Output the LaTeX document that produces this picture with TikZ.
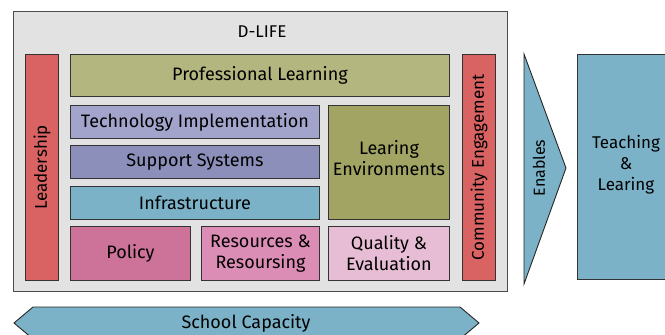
\documentclass[tikz,border=0pt]{standalone}
\usepackage{fontspec}
\setmainfont{Fira Sans}
\usetikzlibrary{positioning}
\definecolor{framegray}{HTML}{E2E2E2}
\definecolor{leadred}{HTML}{D96262}
\definecolor{olivelight}{HTML}{B3B67F}
\definecolor{olivedark}{HTML}{A1A462}
\definecolor{lavender}{HTML}{A2A4CB}
\definecolor{lavenderdark}{HTML}{8C8FB9}
\definecolor{steelblue}{HTML}{7CB2C8}
\definecolor{pinkdark}{HTML}{CD7399}
\definecolor{pinkmid}{HTML}{DC8DB5}
\definecolor{pinklight}{HTML}{E6BDD4}
\tikzset{
  blk/.style = {draw=black!80, line width=0.9pt, inner sep=0pt, align=center,
    anchor=north west, font=\fontsize{18}{21}\selectfont},% coloured block
  tall/.style = {blk, minimum width=33, minimum height=226},% side bar
  lbl/.style = {inner sep=0pt, align=center, font=\fontsize{18}{21}\selectfont}
}

\begin{document}
\begin{tikzpicture}[x=1pt,y=-1pt]
\clip (0,0) rectangle (665,335);
\node [blk, fill=framegray, draw=black!70, minimum width=494, minimum height=280] (dlife) at (13,11) {};
\node [lbl, font=\fontsize{17}{21}\selectfont] (title) at (262,32) {D-LIFE};
\node [tall, fill=leadred] (lead) at (25,54) {};
\node [lbl, rotate=90, font=\fontsize{17}{21}\selectfont] at (lead.center) {Leadership};
\node [tall, fill=leadred] (comm) at (462,54) {};
\node [lbl, rotate=90, font=\fontsize{17}{21}\selectfont] at (comm.center) {Community Engagement};
\node [blk, fill=olivelight, minimum width=379, minimum height=42] (prof) at (70,54) {Professional Learning};
\node [blk, fill=lavender, minimum width=249, minimum height=33] (tech) at (70,105) {Technology Implementation};
\node [blk, fill=lavenderdark, minimum width=249, minimum height=33] (supp) at (70,145) {Support Systems};
\node [blk, fill=steelblue, minimum width=249, minimum height=33] (infra) at (70,186) {Infrastructure};
\node [blk, fill=olivedark, minimum width=121, minimum height=114] (env) at (328,105) {};
\node [lbl] at ([yshift=4]env.center) {Learing\\Environments};
\node [blk, fill=pinkdark, minimum width=120, minimum height=54] (policy) at (70,226) {Policy};
\node [blk, fill=pinkmid, minimum width=118, minimum height=54] (res) at (201,226) {Resources \&\\Resoursing};
\node [blk, fill=pinklight, minimum width=121, minimum height=54] (qual) at (328,226) {Quality \&\\Evaluation};
% enables wedge and outcome
\draw [draw=black!85, line width=0.9pt, fill=steelblue] (524,54) -- (566,168) -- (524,284) -- cycle;
\node [lbl, rotate=90, font=\fontsize{16}{18}\selectfont] (enab) at (539,168) {Enables};
\node [blk, fill=steelblue, minimum width=98, minimum height=225] (teach) at (577,54) {};
\node [lbl, font=\fontsize{17}{21}\selectfont] at (626,165) {Teaching\\\&\\Learing};
% capacity arrow along the bottom
\draw [draw=black!85, line width=0.9pt, fill=steelblue] (14,323) -- (33,307) -- (460,307) -- (479,323) -- (460,339) -- (33,339) -- cycle;
\node [lbl] (cap) at (246,323) {School Capacity};
\end{tikzpicture}
\end{document}
